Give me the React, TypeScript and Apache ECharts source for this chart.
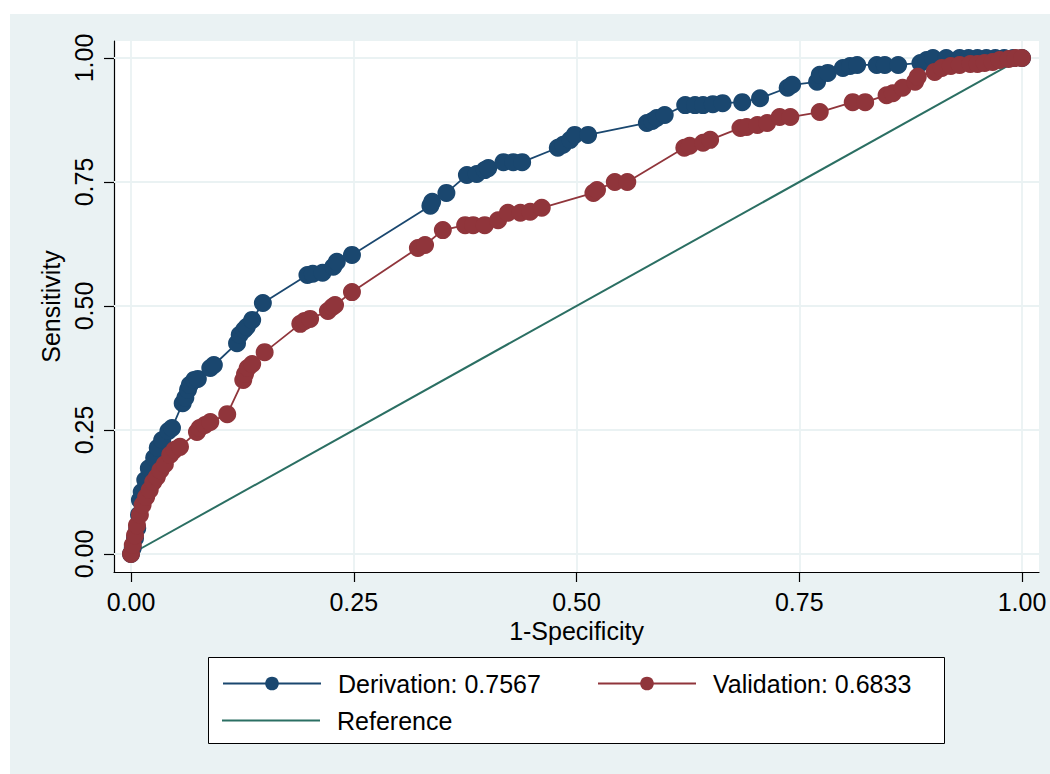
import React, { useEffect, useRef } from "react";
import * as echarts from "echarts";

const xTicks = [0, 0.25, 0.5, 0.75, 1];
const yTicks = [0, 0.25, 0.5, 0.75, 1];

const derivationPoints: [number, number][] = [
  [0, 0], [0.002, 0.012], [0.0045, 0.032], [0.007, 0.052], [0.009, 0.079], [0.01, 0.109],
  [0.012, 0.125], [0.016, 0.149], [0.02, 0.173], [0.026, 0.194], [0.03, 0.214], [0.035, 0.23],
  [0.042, 0.248], [0.046, 0.254], [0.058, 0.304], [0.061, 0.315], [0.064, 0.331], [0.066, 0.341],
  [0.071, 0.351], [0.075, 0.353], [0.089, 0.375], [0.093, 0.381], [0.119, 0.425], [0.122, 0.442],
  [0.127, 0.452], [0.13, 0.458], [0.136, 0.472], [0.148, 0.506], [0.198, 0.5625], [0.204, 0.565],
  [0.215, 0.567], [0.227, 0.579], [0.231, 0.589], [0.248, 0.603], [0.336, 0.702], [0.338, 0.71],
  [0.354, 0.728], [0.377, 0.764], [0.388, 0.766], [0.397, 0.774], [0.401, 0.778], [0.418, 0.79],
  [0.429, 0.79], [0.439, 0.79], [0.479, 0.819], [0.485, 0.825], [0.493, 0.835], [0.498, 0.845],
  [0.513, 0.845], [0.579, 0.869], [0.585, 0.873], [0.59, 0.879], [0.599, 0.885], [0.622, 0.905],
  [0.633, 0.905], [0.642, 0.905], [0.653, 0.907], [0.664, 0.909], [0.686, 0.911], [0.706, 0.919],
  [0.737, 0.94], [0.742, 0.946], [0.77, 0.952], [0.773, 0.966], [0.782, 0.97], [0.799, 0.98],
  [0.807, 0.984], [0.815, 0.986], [0.837, 0.986], [0.846, 0.986], [0.861, 0.986], [0.886, 0.99],
  [0.893, 0.996], [0.9, 1.0], [0.915, 1.0], [0.93, 1.0], [0.94, 1.0], [0.95, 1.0], [0.96, 1.0],
  [0.97, 1.0], [0.98, 1.0], [0.99, 1.0], [1.0, 1.0],
];

const validationPoints: [number, number][] = [
  [0, 0], [0.002, 0.018], [0.0045, 0.038], [0.0067, 0.058], [0.01, 0.079], [0.013, 0.099],
  [0.017, 0.115], [0.021, 0.129], [0.025, 0.145], [0.029, 0.155], [0.033, 0.169], [0.038, 0.181],
  [0.044, 0.2], [0.049, 0.21], [0.055, 0.216], [0.074, 0.246], [0.077, 0.254], [0.083, 0.26],
  [0.089, 0.266], [0.108, 0.282], [0.126, 0.351], [0.128, 0.363], [0.131, 0.375], [0.136, 0.383],
  [0.15, 0.407], [0.19, 0.464], [0.195, 0.47], [0.201, 0.474], [0.221, 0.49], [0.226, 0.498],
  [0.229, 0.502], [0.248, 0.528], [0.322, 0.617], [0.33, 0.623], [0.35, 0.653], [0.375, 0.663],
  [0.384, 0.663], [0.397, 0.663], [0.412, 0.673], [0.423, 0.688], [0.437, 0.688], [0.448, 0.69],
  [0.461, 0.698], [0.519, 0.728], [0.523, 0.734], [0.543, 0.75], [0.557, 0.75], [0.621, 0.819],
  [0.627, 0.823], [0.642, 0.829], [0.65, 0.835], [0.684, 0.859], [0.691, 0.861], [0.703, 0.865],
  [0.714, 0.869], [0.728, 0.881], [0.74, 0.881], [0.773, 0.891], [0.81, 0.911], [0.824, 0.911],
  [0.848, 0.925], [0.855, 0.929], [0.866, 0.94], [0.88, 0.952], [0.883, 0.962], [0.902, 0.972],
  [0.91, 0.98], [0.92, 0.984], [0.93, 0.986], [0.942, 0.988], [0.95, 0.988], [0.958, 0.99],
  [0.967, 0.992], [0.975, 0.996], [0.985, 0.998], [0.993, 1], [1, 1],
];

const referencePoints: [number, number][] = [[0, 0], [1, 1]];

const derivationName = "Derivation: 0.7567";
const validationName = "Validation: 0.6833";
const referenceName = "Reference";

const NAVY = "#1A476F";
const MAROON = "#90353B";
const TEAL = "#2B6F63";
const BG = "#EAF2F3";
const FONT = "'Liberation Sans', Arial, sans-serif";

export default function App() {
  const ref = useRef<HTMLDivElement>(null);
  useEffect(() => {
    if (!ref.current) return;
    const chart = echarts.init(ref.current, undefined, { renderer: "svg" });
    const labelStyle = { color: "#000", fontSize: 25, fontFamily: FONT };
    const legendText = { color: "#000", fontSize: 25, fontFamily: FONT, padding: [0, 0, 0, 12] };
    chart.setOption({
      animation: false,
      backgroundColor: "#fff",
      textStyle: { fontFamily: FONT },
      graphic: [
        { type: "rect", z: -10, shape: { x: 10, y: 14, width: 1040, height: 760 }, style: { fill: BG } },
        {
          type: "rect", z: 1,
          shape: { x: 208.5, y: 657.5, width: 736, height: 86 },
          style: { fill: "#fff", stroke: "#000", lineWidth: 1 },
        },
      ],
      grid: {
        left: 114, right: 11, top: 41, bottom: 202,
        show: true, backgroundColor: "#fff", borderWidth: 0,
      },
      xAxis: {
        type: "value",
        min: -17 / 891, max: 1 + 17 / 891,
        name: "1-Specificity",
        nameLocation: "middle",
        nameGap: 42,
        nameTextStyle: { color: "#000", fontSize: 25, fontFamily: FONT },
        axisLine: { show: true, onZero: false, lineStyle: { color: "#000", width: 1.2 } },
        axisTick: { show: true, length: 10, customValues: xTicks, lineStyle: { color: "#000", width: 1.2 } },
        axisLabel: { ...labelStyle, margin: 17, customValues: xTicks, formatter: (v: number) => v.toFixed(2) },
        splitLine: { show: false },
      },
      yAxis: {
        type: "value",
        min: -18 / 496, max: 1 + 17 / 496,
        name: "Sensitivity",
        nameLocation: "middle",
        nameGap: 46,
        nameTextStyle: { color: "#000", fontSize: 25, fontFamily: FONT },
        axisLine: { show: true, onZero: false, lineStyle: { color: "#000", width: 1.2 } },
        axisTick: { show: true, length: 10, customValues: yTicks, lineStyle: { color: "#000", width: 1.2 } },
        axisLabel: { ...labelStyle, margin: 18, rotate: 90, customValues: yTicks, formatter: (v: number) => v.toFixed(2) },
        splitLine: { show: false },
      },
      legend: [
        {
          data: [derivationName], left: 222, top: 671, padding: 0,
          itemWidth: 98, itemHeight: 17,
          textStyle: legendText,
        },
        {
          data: [validationName], left: 597, top: 671, padding: 0,
          itemWidth: 98, itemHeight: 17,
          textStyle: legendText,
        },
        {
          data: [{ name: referenceName, icon: "rect" }], left: 222, top: 708, padding: 0,
          itemWidth: 98, itemHeight: 2,
          textStyle: legendText,
        },
      ],
      series: [
        {
          name: "grid",
          type: "line",
          data: [],
          silent: true,
          markLine: {
            silent: true,
            z: 1,
            symbol: "none",
            label: { show: false },
            lineStyle: { color: BG, width: 1.8, type: "solid" },
            emphasis: { disabled: true },
            data: [
              ...xTicks.map((v) => ({ xAxis: v })),
              ...yTicks.map((v) => ({ yAxis: v })),
            ],
          },
        },
        {
          name: derivationName,
          type: "line",
          data: derivationPoints,
          symbol: "circle",
          symbolSize: 18,
          showSymbol: true,
          itemStyle: { color: NAVY },
          lineStyle: { color: NAVY, width: 1.8 },
        },
        {
          name: validationName,
          type: "line",
          data: validationPoints,
          symbol: "circle",
          symbolSize: 18,
          showSymbol: true,
          itemStyle: { color: MAROON },
          lineStyle: { color: MAROON, width: 1.8 },
        },
        {
          name: referenceName,
          type: "line",
          data: referencePoints,
          symbol: "none",
          itemStyle: { color: TEAL },
          lineStyle: { color: TEAL, width: 2 },
        },
      ],
    });
    return () => chart.dispose();
  }, []);
  return (
    <div
      ref={ref}
      style={{ position: "absolute", left: 0, top: 0, width: 1050, height: 774 }}
    />
  );
}
